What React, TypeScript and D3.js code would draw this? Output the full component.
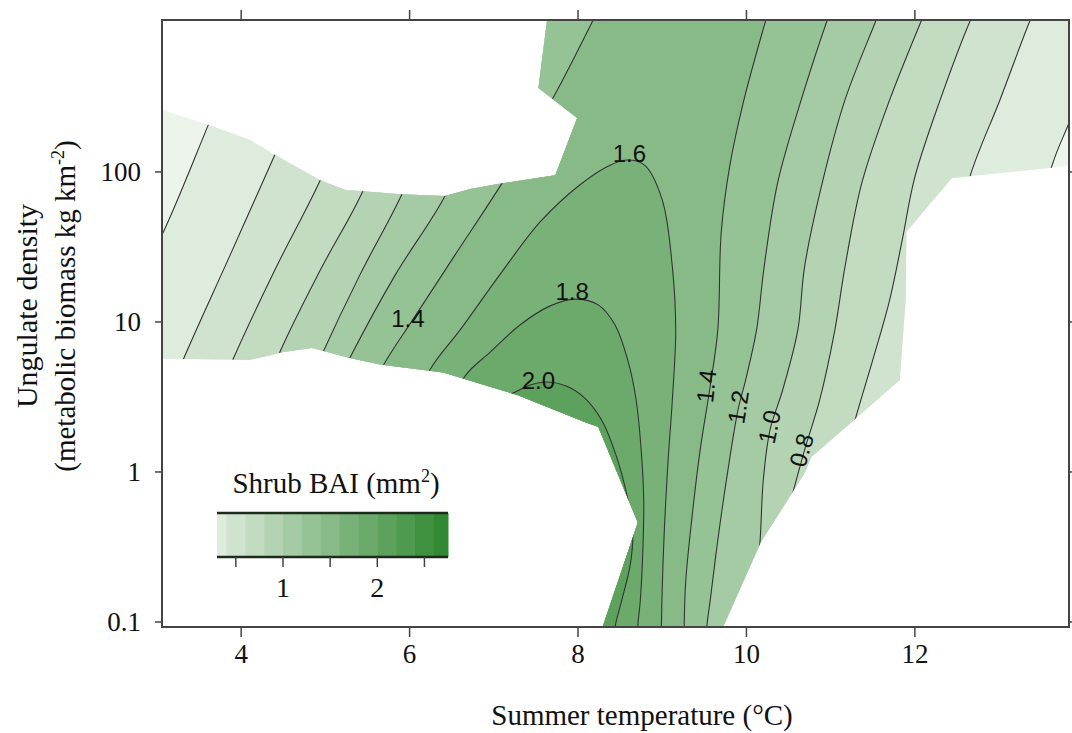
import React from 'react';
import * as d3 from 'd3';

// axis ticks
const tempTicks = [4, 6, 8, 10, 12];
const densityTicks = [0.1, 1, 10, 100];
const legendTicks = [0.5, 1, 1.5, 2, 2.5];
const legendTickLabels = [1, 2];

// colour key breaks (shrub BAI, mm2)
const legendBreaks = [0.3, 0.4, 0.6, 0.8, 1.0, 1.2, 1.4, 1.6, 1.8, 2.0, 2.2, 2.4, 2.6, 2.75];

// outline of sampled space, [summer temperature, ungulate density]
const hull: number[][] = [
  [3.0, 267], [3.61, 206], [4.11, 163], [4.40, 130], [4.94, 88], [5.23, 76], [5.89, 71],
  [6.42, 69], [6.72, 77], [7.10, 84], [7.73, 95], [7.99, 229], [7.53, 363], [7.67, 1500],
  [14.2, 1500], [14.2, 115], [12.44, 91], [11.90, 40], [11.89, 14], [11.82, 4.1],
  [11.25, 2.15], [10.77, 1.26], [10.69, 0.98], [10.17, 0.34], [9.60, 0.065],
  [8.20, 0.065], [8.71, 0.46], [8.24, 2.0], [8.11, 2.12], [7.28, 3.26], [6.40, 4.6],
  [5.65, 5.2], [5.29, 5.75], [4.84, 6.7], [4.50, 6.3], [4.11, 5.6], [3.0, 5.7],
];

// contour lines, [temperature, density]
const c02Left = [[2.80, 20.6], [3.07, 39.2], [3.61, 206], [3.93, 558], [4.13, 1030], [4.23, 1400]];
const c02Right = [[14.3, 1400], [14.08, 479], [13.83, 212], [13.63, 111], [13.25, 14.0], [12.89, 0.65], [12.65, 0.065]];
const c04Left = [[2.92, 1.63], [3.31, 5.58], [3.87, 28.0], [4.40, 130], [4.70, 302], [5.06, 1030], [5.18, 1400]];
const c04Right = [[13.48, 1400], [13.37, 1030], [13.01, 302], [12.66, 95.5], [12.42, 25.9], [12.18, 3.02], [11.94, 0.065]];
const c06Left = [[3.51, 1.63], [3.91, 5.75], [4.40, 22.2], [4.94, 88.4], [5.23, 222], [5.59, 1030], [5.67, 1400]];
const c06Right = [[12.77, 1400], [12.66, 1030], [12.30, 302], [12.00, 92.6], [11.85, 35.2], [11.70, 14.0], [11.50, 5.58], [11.29, 2.22], [11.05, 0.651], [10.75, 0.065]];
const c08Left = [[4.05, 1.63], [4.46, 6.31], [4.94, 22.2], [5.44, 73.6], [5.77, 222], [6.12, 1030], [6.22, 1400]];
const c08Right = [[12.18, 1400], [12.08, 1030], [11.70, 302], [11.37, 84.5], [11.17, 23.3], [11.05, 8.85], [10.87, 3.02], [10.69, 1.40], [10.40, 0.352], [10.04, 0.065]];
const c10Left = [[4.52, 1.63], [4.94, 5.75], [5.41, 20.6], [5.91, 71.3], [6.27, 222], [6.66, 1030], [6.74, 1400]];
const c10Right = [[11.63, 1400], [11.54, 1030], [11.17, 302], [10.90, 84.5], [10.69, 23.3], [10.61, 8.85], [10.43, 3.52], [10.28, 1.91], [10.20, 0.885], [10.16, 0.336], [10.07, 0.0926], [10.04, 0.056]];
const c12Left = [[4.82, 1.63], [5.29, 5.75], [5.83, 20.6], [6.42, 69.2], [6.81, 222], [7.19, 1030], [7.28, 1400]];
const c12Right = [[11.05, 1400], [10.96, 1030], [10.65, 302], [10.37, 84.5], [10.21, 23.3], [10.12, 8.85], [9.99, 4.10], [9.90, 2.59], [9.78, 1.03], [9.66, 0.352], [9.57, 0.140], [9.53, 0.0926], [9.52, 0.056]];
const c14Left = [[5.23, 1.63], [5.69, 5.17], [6.05, 10.6], [6.54, 28.0], [7.10, 84.5], [7.69, 302], [8.18, 1030], [8.30, 1400]];
const c14Right = [[10.30, 1400], [10.23, 1030], [9.97, 302], [9.80, 108], [9.70, 39.2], [9.66, 8.85], [9.57, 3.74], [9.45, 1.40], [9.35, 0.479], [9.28, 0.19], [9.26, 0.0926], [9.26, 0.056]];
const c16 = [[5.89, 1.63], [6.24, 4.79], [6.60, 8.85], [7.07, 20.6], [7.55, 46.4], [8.02, 81.9], [8.38, 111], [8.59, 120], [8.79, 111], [9.00, 65.1], [9.12, 23.3], [9.16, 8.85], [9.12, 3.02], [9.07, 1.20], [9.02, 0.352], [8.99, 0.0926], [8.99, 0.056]];
const c18 = [[6.36, 1.91], [6.66, 4.37], [6.96, 6.31], [7.31, 9.55], [7.67, 12.8], [7.96, 14.2], [8.24, 13.0], [8.44, 9.55], [8.59, 5.58], [8.69, 3.02], [8.75, 1.40], [8.78, 0.651], [8.77, 0.302], [8.74, 0.140], [8.71, 0.0926], [8.71, 0.056]];
const c20 = [[7.01, 3.02], [7.23, 3.36], [7.43, 3.80], [7.64, 3.98], [7.86, 3.74], [8.08, 3.11], [8.28, 2.22], [8.45, 1.30], [8.58, 0.703], [8.65, 0.41], [8.62, 0.240], [8.52, 0.140], [8.44, 0.0926], [8.40, 0.056]];

const contours = [
  { level: 0.2, parts: [c02Left, c02Right] },
  { level: 0.4, parts: [c04Left, c04Right] },
  { level: 0.6, parts: [c06Left, c06Right] },
  { level: 0.8, parts: [c08Left, c08Right] },
  { level: 1.0, parts: [c10Left, c10Right] },
  { level: 1.2, parts: [c12Left, c12Right] },
  { level: 1.4, parts: [c14Left, c14Right] },
  { level: 1.6, parts: [c16] },
  { level: 1.8, parts: [c18] },
  { level: 2.0, parts: [c20] },
];

// where the level labels sit
const contourLabels = [
  { text: '1.6', t: 8.61, d: 134, angle: 0 },
  { text: '1.8', t: 7.93, d: 16.1, angle: 0 },
  { text: '2.0', t: 7.53, d: 4.1, angle: 0 },
  { text: '1.4', t: 5.98, d: 10.6, angle: 0 },
  { text: '1.4', t: 9.52, d: 3.74, angle: -84 },
  { text: '1.2', t: 9.90, d: 2.71, angle: -81 },
  { text: '1.0', t: 10.27, d: 2.0, angle: -78 },
  { text: '0.8', t: 10.65, d: 1.40, angle: -74 },
];

const serif = "'Liberation Serif', 'Times New Roman', serif";
const sans = "'Liberation Sans', Arial, sans-serif";

export default function App() {
  const W = 1072, H = 733;
  const m = { left: 162, right: 1069, top: 20, bottom: 627 };

  const x = d3.scaleLinear().domain([3.06, 13.83]).range([m.left, m.right]);
  const y = d3.scaleLog().domain([0.0926, 1030]).range([m.bottom, m.top]);
  const pt = (p: number[]) => [x(p[0]), y(p[1])] as [number, number];

  // fill colours, one per 0.2 band
  const color = d3.scaleLinear<string>().domain([0, 2.8]).range(['#f4f8f3', '#2a852a']).interpolate(d3.interpolateRgb);
  const bandColor = (v: number) => color(Math.floor(v / 0.2 + 1e-6) * 0.2 + 0.1);

  const curve = d3.line().curve(d3.curveCatmullRom.alpha(0.5));
  const hullPath = d3.line()(hull.map(pt)) + 'Z';

  // region above a level: the line(s) closed along the bottom, outside the plot
  const fillPath = (parts: number[][][]) => {
    let d = '';
    parts.forEach((part, i) => {
      const s = curve(part.map(pt)) || '';
      d += i === 0 ? s : 'L' + s.slice(1);
    });
    const first = pt(parts[0][0]);
    const lastPart = parts[parts.length - 1];
    const last = pt(lastPart[lastPart.length - 1]);
    d += `L${last[0]},${H + 40}L${first[0]},${H + 40}Z`;
    return d;
  };

  const lg = d3.scaleLinear().domain([0.3, 2.75]).range([217, 448]);
  const lgTop = 513, lgBottom = 557;

  return (
    <div style={{ position: 'fixed', left: 0, top: 0 }}>
      <svg width={W} height={H} style={{ display: 'block', background: '#fff' }}>
        <defs>
          <clipPath id="plotArea">
            <rect x={m.left} y={m.top} width={m.right - m.left} height={m.bottom - m.top} />
          </clipPath>
          <clipPath id="hullArea">
            <path d={hullPath} />
          </clipPath>
        </defs>

        <g clipPath="url(#plotArea)">
          <g clipPath="url(#hullArea)">
            <path d={hullPath} fill={bandColor(0.1)} />
            {contours.map(c => (
              <path key={'f' + c.level} d={fillPath(c.parts)} fill={bandColor(c.level + 0.1)} />
            ))}
            {contours.map(c => c.parts.map((p, i) => (
              <path key={'l' + c.level + i} d={curve(p.map(pt)) || ''} fill="none" stroke="#333" strokeWidth={1.1} />
            )))}
          </g>
        </g>

        {contourLabels.map((l, i) => {
          const [lx, ly] = pt([l.t, l.d]);
          return (
            <text key={'cl' + i} transform={`translate(${lx},${ly}) rotate(${l.angle})`}
              textAnchor="middle" dy="0.36em" fontFamily={sans} fontSize={24} fill="#111">{l.text}</text>
          );
        })}

        {/* frame and ticks */}
        <rect x={m.left} y={m.top} width={m.right - m.left} height={m.bottom - m.top} fill="none" stroke="#444" strokeWidth={2} />
        {tempTicks.map(t => (
          <g key={'xt' + t}>
            <line x1={x(t)} x2={x(t)} y1={m.bottom} y2={m.bottom + 10} stroke="#444" strokeWidth={1.5} />
            <line x1={x(t)} x2={x(t)} y1={m.top} y2={m.top - 10} stroke="#444" strokeWidth={1.5} />
            <text x={x(t)} y={663} textAnchor="middle" fontFamily={serif} fontSize={27} fill="#111">{t}</text>
          </g>
        ))}
        {densityTicks.map(d => (
          <g key={'yt' + d}>
            <line x1={m.left} x2={m.left - 7} y1={y(d)} y2={y(d)} stroke="#444" strokeWidth={1.5} />
            <line x1={m.right} x2={m.right + 6} y1={y(d)} y2={y(d)} stroke="#444" strokeWidth={1.5} />
            <text x={141} y={y(d)} dy="0.34em" textAnchor="end" fontFamily={serif} fontSize={27} fill="#111">{d}</text>
          </g>
        ))}

        {/* axis titles */}
        <text x={642} y={725} textAnchor="middle" fontFamily={serif} fontSize={29} fill="#111">Summer temperature (°C)</text>
        <text transform="translate(37,306) rotate(-90)" textAnchor="middle" fontFamily={serif} fontSize={30} fill="#111">Ungulate density</text>
        <text transform="translate(75,306) rotate(-90)" textAnchor="middle" fontFamily={serif} fontSize={29} fill="#111">
          (metabolic biomass kg km<tspan fontSize={18} dy={-11}>-2</tspan><tspan dy={11}>)</tspan>
        </text>

        {/* colour key */}
        <text x={336} y={493} textAnchor="middle" fontFamily={serif} fontSize={29} fill="#111">
          Shrub BAI (mm<tspan fontSize={18} dy={-11}>2</tspan><tspan dy={11}>)</tspan>
        </text>
        {legendBreaks.slice(0, -1).map((b, i) => (
          <rect key={'lk' + i} x={lg(b)} y={lgTop} width={lg(legendBreaks[i + 1]) - lg(b) + 0.5} height={lgBottom - lgTop}
            fill={bandColor(b)} />
        ))}
        <line x1={lg(0.3)} x2={lg(2.75)} y1={lgTop} y2={lgTop} stroke="#1d2b1d" strokeWidth={2.5} />
        <line x1={lg(0.3)} x2={lg(2.75)} y1={lgBottom} y2={lgBottom} stroke="#1d2b1d" strokeWidth={2.5} />
        {legendTicks.map(t => (
          <line key={'lt' + t} x1={lg(t)} x2={lg(t)} y1={lgBottom} y2={lgBottom + 10} stroke="#444" strokeWidth={1.5} />
        ))}
        {legendTickLabels.map(t => (
          <text key={'ll' + t} x={lg(t)} y={597} textAnchor="middle" fontFamily={serif} fontSize={28} fill="#111">{t}</text>
        ))}
      </svg>
    </div>
  );
}
